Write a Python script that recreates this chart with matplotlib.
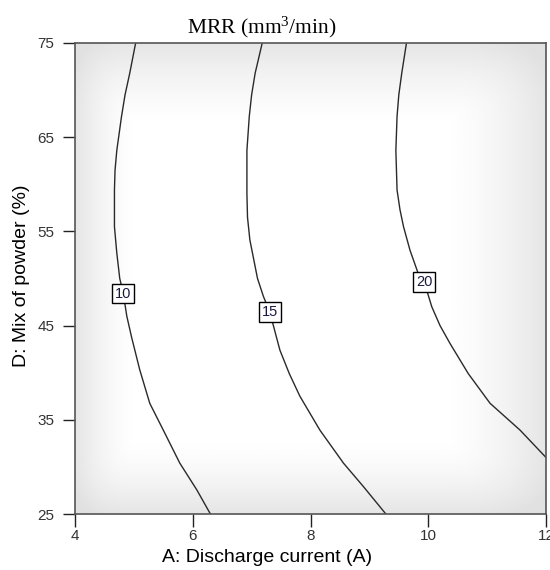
import numpy as np
import matplotlib
matplotlib.use("Agg")
import matplotlib.pyplot as plt

plt.rcParams["mathtext.fontset"] = "custom"
plt.rcParams["mathtext.rm"] = "Liberation Serif"
plt.rcParams["mathtext.it"] = "Liberation Serif"
plt.rcParams["mathtext.bf"] = "Liberation Serif:bold"

# Contour lines: (A: discharge current, D: mix of powder)
levels = ["10", "15", "20"]
c10_x = [5.03, 4.93, 4.85, 4.79, 4.71, 4.68, 4.67, 4.67, 4.71, 4.76, 4.82, 4.88, 4.96, 5.10, 5.27, 5.50, 5.78, 6.07, 6.30]
c10_y = [75.0, 71.8, 69.5, 67.2, 63.6, 61.5, 59.4, 55.5, 52.7, 50.0, 48.4, 46.0, 43.8, 40.3, 36.75, 33.9, 30.4, 27.55, 25.0]
c15_x = [7.18, 7.06, 7.00, 6.96, 6.92, 6.92, 6.93, 6.97, 7.10, 7.20, 7.31, 7.48, 7.64, 7.82, 8.16, 8.56, 8.90, 9.28]
c15_y = [75.0, 71.8, 69.5, 67.2, 63.6, 59.0, 56.5, 54.1, 50.0, 48.1, 46.4, 42.4, 39.9, 37.5, 33.9, 30.4, 27.9, 25.0]
c20_x = [9.63, 9.55, 9.50, 9.47, 9.45, 9.47, 9.52, 9.58, 9.69, 9.82, 9.93, 10.06, 10.20, 10.37, 10.68, 11.05, 11.56, 12.0]
c20_y = [75.0, 71.8, 69.5, 67.2, 63.6, 59.4, 57.3, 55.5, 53.0, 50.7, 49.65, 47.0, 45.0, 43.1, 39.9, 36.75, 33.9, 31.0]
label_x = [4.82, 7.31, 9.93]
label_y = [48.4, 46.4, 49.65]

x_ticks = [4, 6, 8, 10, 12]
y_ticks = [25, 35, 45, 55, 65, 75]

fig = plt.figure(figsize=(5.5, 5.7), dpi=100)
ax = fig.add_axes([75/550, 1-514/570, 471/550, 471/570])

# background vignette (white centre, light grey edges)
n = 300
u = np.linspace(0, 1, n)
U, V = np.meshgrid(u, u)
sx = np.maximum(np.clip(1 - U/0.13, 0, 1), np.clip(1 - (1-U)/0.22, 0, 1))**1.5
sy = np.maximum(np.clip(1 - V/0.16, 0, 1), np.clip(1 - (1-V)/0.18, 0, 1))**1.5
shade = 1 - 0.10*np.clip(np.sqrt(sx**2 + sy**2), 0, 1.2)
ax.imshow(shade, cmap="gray", vmin=0, vmax=1, extent=[4, 12, 25, 75],
          aspect="auto", origin="lower", interpolation="bicubic", zorder=0)

for xs, ys in [(c10_x, c10_y), (c15_x, c15_y), (c20_x, c20_y)]:
    ax.plot(xs, ys, color="#2a2a2a", lw=1.0, zorder=2, solid_joinstyle="round")

for lx, ly, t in zip(label_x, label_y, levels):
    ax.text(lx, ly, t, ha="center", va="center", fontsize=10.5,
            family="Liberation Sans", color="#1a1a40", zorder=3,
            bbox=dict(boxstyle="square,pad=0.2", fc="white", ec="black", lw=1.0))

ax.set_xlim(4, 12)
ax.set_ylim(25, 75)
ax.set_xticks(x_ticks)
ax.set_yticks(y_ticks)
ax.tick_params(direction="out", length=9, width=1, colors="#222222",
               labelsize=11, pad=2)
ax.tick_params(axis="y", pad=6)
for lab in ax.get_xticklabels() + ax.get_yticklabels():
    lab.set_family("Liberation Sans")
    lab.set_color("#333333")
for s in ax.spines.values():
    s.set_color("#555555")
    s.set_linewidth(1.2)

ax.set_xlabel("A: Discharge current (A)", fontsize=14, family="Liberation Sans")
ax.xaxis.set_label_coords((267-75)/471, -0.074)
ax.set_ylabel("D: Mix of powder (%)", fontsize=14, family="Liberation Sans")
ax.yaxis.set_label_coords(-0.095, 0.505)
fig.text(262/550, 1-27/570, "MRR (mm$^3$/min)", fontsize=15.5, family="Liberation Serif",
         ha="center", va="center")

fig.savefig("out.png", dpi=100)
